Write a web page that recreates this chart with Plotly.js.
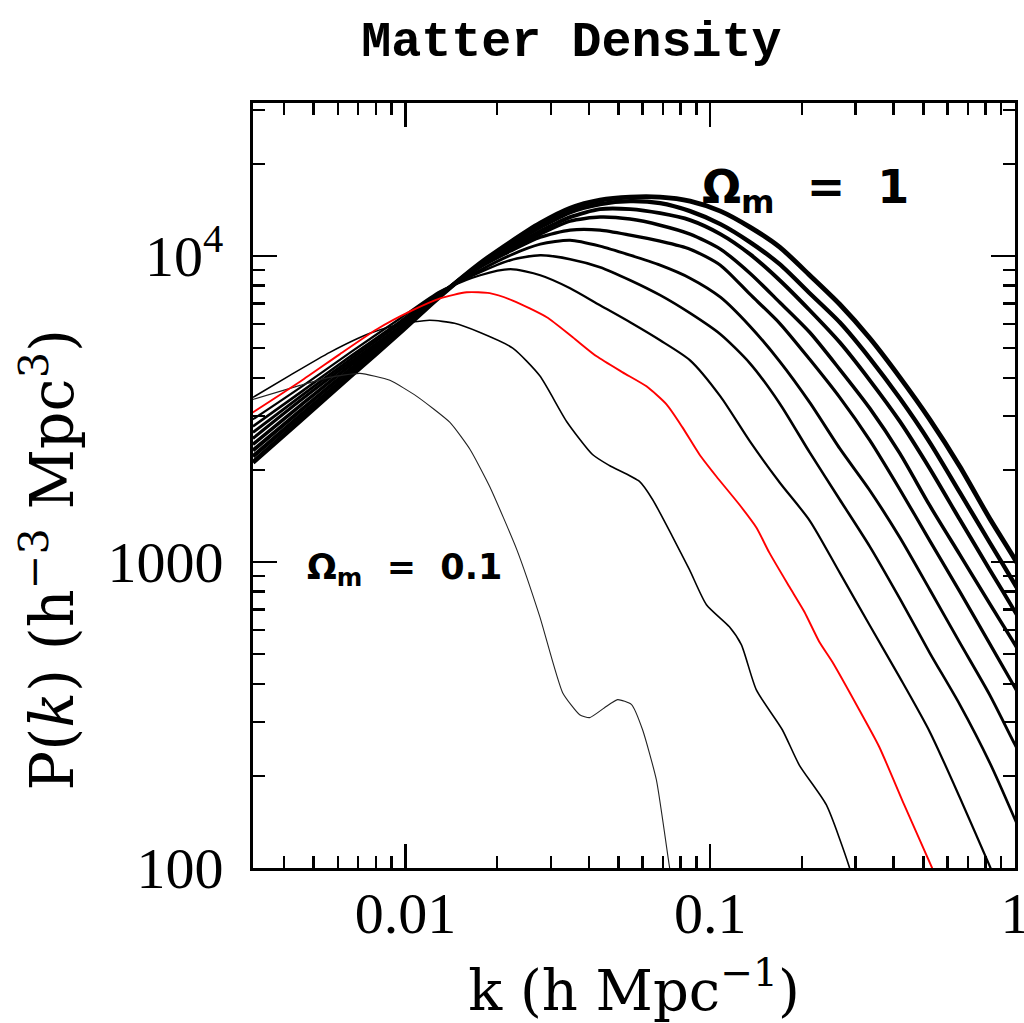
<!DOCTYPE html>
<html>
<head>
<meta charset="utf-8">
<script src="https://cdn.plot.ly/plotly-3.0.1.min.js"></script>
<style>html,body{margin:0;padding:0;background:#fff;}#chart{width:1024px;height:1023px;}</style>
</head>
<body>
<div id="chart"></div>
<script>
// shared k grid (h/Mpc) for the thick curves
const kGrid = [0.00316, 0.00453, 0.0066, 0.00963, 0.0130, 0.0176, 0.0221, 0.0277, 0.0347, 0.0435, 0.0546, 0.0685, 0.0859, 0.108, 0.135, 0.169, 0.212, 0.266, 0.334, 0.419, 0.525, 0.659, 0.826, 1.0, 1.12];

// thick black curves, from lowest (B1) to Omega_m = 1 (B8)
const pB1 = [2925, 3723, 4843, 6260, 7670, 8655, 9054, 8655, 7848, 6902, 6074, 5304, 4561, 3477, 2478, 1819, 1366, 923, 620, 419, 279, 170, 101.5, 65, 50];
const pB2 = [2774, 3584, 4700, 6121, 7615, 8854, 9692, 10060, 9766, 9193, 8334, 7446, 6502, 5548, 4460, 3298, 2281, 1601, 1123, 759, 505, 342, 221, 144, 110];
const pB3 = [2651, 3477, 4596, 6027, 7557, 8989, 10060, 10930, 11260, 10770, 10060, 9333, 8463, 7333, 5894, 4528, 3324, 2351, 1713, 1202, 813, 545, 368, 253, 205];
const pB4 = [2534, 3375, 4494, 5894, 7500, 9193, 10370, 11520, 12150, 12150, 11700, 11180, 10530, 9333, 7500, 6027, 4596, 3451, 2497, 1726, 1175, 800, 541, 388, 317];
const pB5 = [2423, 3250, 4393, 5806, 7500, 9264, 10530, 11790, 13000, 13400, 13200, 12610, 11790, 10530, 8786, 7061, 5634, 4263, 3177, 2264, 1530, 1057, 731, 537, 441];
const pB6 = [2316, 3129, 4263, 5761, 7446, 9333, 10690, 12050, 13400, 14230, 14230, 13800, 13100, 11790, 10140, 8334, 6649, 5224, 3924, 2880, 2021, 1376, 944, 688, 566];
const pB7 = [2213, 3014, 4136, 5676, 7446, 9404, 10930, 12430, 13910, 14780, 15120, 14890, 14020, 12710, 11100, 9404, 7557, 6074, 4631, 3426, 2460, 1688, 1158, 844, 693];
const pB8 = [2115, 2902, 4044, 5634, 7389, 9475, 11100, 12810, 14330, 15230, 15580, 15580, 15120, 14020, 12430, 10690, 8655, 6956, 5384, 4013, 2925, 2052, 1387, 1019, 837];

// red curve
const kRed = [0.00316, 0.00452, 0.0061, 0.00806, 0.0104, 0.0130, 0.0159, 0.0189, 0.0225, 0.0291, 0.0354, 0.0424, 0.0516, 0.0618, 0.0719, 0.0811, 0.0922, 0.1048, 0.1246, 0.1417, 0.1563, 0.1817, 0.2036, 0.2279, 0.2515, 0.3082, 0.3584, 0.4328, 0.5346, 0.5636];
const pRed = [3083, 3890, 4780, 5760, 6600, 7270, 7610, 7560, 7150, 6305, 5424, 4700, 4167, 3750, 3274, 2754, 2246, 1903, 1541, 1296, 1073, 831, 688, 549, 472, 329, 249, 161, 100, 88];

// second thin curve
const kC2 = [0.00316, 0.00418, 0.00565, 0.00765, 0.00959, 0.0120, 0.0145, 0.0175, 0.0225, 0.0276, 0.0338, 0.0411, 0.0467, 0.0586, 0.0647, 0.0752, 0.0855, 0.0972, 0.1156, 0.1265, 0.1417, 0.1724, 0.196, 0.2403, 0.2858, 0.299];
const pC2 = [3451, 4073, 4843, 5590, 5981, 6165, 6027, 5632, 5000, 4060, 2880, 2246, 2067, 1833, 1601, 1211, 944, 725, 614, 537, 382, 283, 217, 161, 101, 85];

// Omega_m = 0.1 curve
const kC1 = [0.00316, 0.00451, 0.00565, 0.00709, 0.00889, 0.0109, 0.0140, 0.0163, 0.0189, 0.0232, 0.0276, 0.0328, 0.0373, 0.0402, 0.0450, 0.0497, 0.0552, 0.0600, 0.0666, 0.0735, 0.0769];
const pC1 = [3399, 3777, 4012, 4135, 3923, 3477, 2858, 2332, 1765, 1098, 663, 374, 317, 310, 334, 355, 342, 283, 194, 101, 76];

// axis ticks
const xMajor = [0.01, 0.1, 1];
const xMajorText = ['0.01', '0.1', '1'];
const xMinor = [0.004, 0.005, 0.006, 0.007, 0.008, 0.009, 0.02, 0.03, 0.04, 0.05, 0.06, 0.07, 0.08, 0.09, 0.2, 0.3, 0.4, 0.5, 0.6, 0.7, 0.8, 0.9];
const yMajor = [100, 1000, 10000];
const yMajorText = ['100', '1000', '10<sup>4</sup>'];
const yMinor = [200, 300, 400, 500, 600, 700, 800, 900, 2000, 3000, 4000, 5000, 6000, 7000, 8000, 9000, 20000, 30000];

const thick = [
  {p: pB8, w: 4.8}, {p: pB7, w: 4.3}, {p: pB6, w: 3.9}, {p: pB5, w: 3.5},
  {p: pB4, w: 3.2}, {p: pB3, w: 2.9}, {p: pB2, w: 2.6}, {p: pB1, w: 2.2}
];

const traces = [];
thick.forEach(function (c) {
  traces.push({x: kGrid, y: c.p, type: 'scatter', mode: 'lines',
    line: {color: '#000', width: c.w, shape: 'spline', smoothing: 0.7}, hoverinfo: 'skip'});
});
traces.push({x: kC2, y: pC2, type: 'scatter', mode: 'lines',
  line: {color: '#000', width: 1.6, shape: 'spline', smoothing: 0.6}, hoverinfo: 'skip'});
traces.push({x: kC1, y: pC1, type: 'scatter', mode: 'lines',
  line: {color: '#222', width: 1.1, shape: 'spline', smoothing: 0.5}, hoverinfo: 'skip'});
traces.push({x: kRed, y: pRed, type: 'scatter', mode: 'lines',
  line: {color: '#ff0000', width: 1.9, shape: 'spline', smoothing: 0.6}, hoverinfo: 'skip'});

const axisCommon = {
  type: 'log', ticks: 'inside', ticklen: 24, tickwidth: 2.5, tickcolor: '#000',
  showline: true, linewidth: 3, linecolor: '#000', mirror: 'allticks',
  showgrid: false, zeroline: false, automargin: false, fixedrange: true,
  ticklabeloverflow: 'allow',
  tickfont: {family: 'Liberation Serif', size: 58, color: '#000'}
};

const layout = {
  width: 1024, height: 1023,
  margin: {l: 253, r: 9, t: 103, b: 155},
  paper_bgcolor: '#fff', plot_bgcolor: '#fff',
  showlegend: false,
  title: {
    text: '<b>Matter Density</b>',
    font: {family: 'Liberation Mono', size: 50, color: '#000'},
    x: 0.558, xref: 'container', xanchor: 'center',
    y: 0.962, yref: 'container', yanchor: 'middle'
  },
  xaxis: Object.assign({}, axisCommon, {
    range: [-2.5, 0],
    tickmode: 'array', tickvals: xMajor, ticktext: xMajorText,
    ticklabelstandoff: -8,
    minor: {tickmode: 'array', tickvals: xMinor, ticks: 'inside', ticklen: 12, tickwidth: 2.5, tickcolor: '#000', showgrid: false},
    title: {text: 'k (h Mpc<sup>\u22121</sup>)', font: {family: 'DejaVu Serif', size: 56, color: '#000'}, standoff: 53}
  }),
  yaxis: Object.assign({}, axisCommon, {
    range: [2, 4.5],
    tickmode: 'array', tickvals: yMajor, ticktext: yMajorText,
    ticklabelstandoff: 15,
    minor: {tickmode: 'array', tickvals: yMinor, ticks: 'inside', ticklen: 12, tickwidth: 2.5, tickcolor: '#000', showgrid: false}
  }),
  annotations: [
    {
      text: 'P(<i>k</i>) (h<sup>\u22123</sup> Mpc<sup>3</sup>)',
      xref: 'paper', yref: 'paper', x: -0.268, y: 0.403,
      xanchor: 'center', yanchor: 'middle', textangle: -90, showarrow: false,
      font: {family: 'DejaVu Serif', size: 59, color: '#000'}
    },
    {
      text: '<b>\u03A9<sub>m</sub>\u00A0\u00A0=\u00A0\u00A01</b>',
      xref: 'paper', yref: 'paper', x: 0.586, y: 0.886,
      xanchor: 'left', yanchor: 'middle', showarrow: false,
      font: {family: 'DejaVu Sans', size: 46, color: '#000'}
    },
    {
      text: '<b>\u03A9<sub>m</sub>\u00A0\u00A0=\u00A0\u00A00.1</b>',
      xref: 'paper', yref: 'paper', x: 0.068, y: 0.39,
      xanchor: 'left', yanchor: 'middle', showarrow: false,
      font: {family: 'DejaVu Sans', size: 35, color: '#000'}
    }
  ]
};

Plotly.newPlot('chart', traces, layout, {displayModeBar: false, staticPlot: true});
</script>
</body>
</html>
